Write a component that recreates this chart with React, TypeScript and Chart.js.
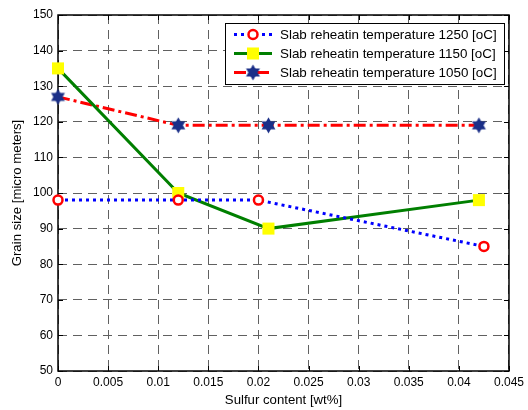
import React, { useEffect, useRef } from "react";
import { Chart, registerables } from "chart.js";

Chart.register(...registerables);

const xTicks = [0, 0.005, 0.01, 0.015, 0.02, 0.025, 0.03, 0.035, 0.04, 0.045];
const yTicks = [50, 60, 70, 80, 90, 100, 110, 120, 130, 140, 150];

const seriesLabels = [
  "Slab reheatin temperature 1250 [oC]",
  "Slab reheatin temperature 1150 [oC]",
  "Slab reheatin temperature 1050 [oC]",
];

const s1250X = [0, 0.012, 0.02, 0.0425];
const s1250Y = [98, 98, 98, 85];
const s1150X = [0, 0.012, 0.021, 0.042];
const s1150Y = [135, 100, 90, 98];
const s1050X = [0, 0.012, 0.021, 0.042];
const s1050Y = [127, 119, 119, 119];

const FONT = "'Liberation Sans', Arial, sans-serif";

function makeHexagram(): HTMLCanvasElement {
  const c = document.createElement("canvas");
  c.width = 17;
  c.height = 17;
  const ctx = c.getContext("2d")!;
  const cx = 8.5, cy = 8.5, R = 8;
  ctx.fillStyle = "#1b2f88";
  for (const start of [-90, 90]) {
    ctx.beginPath();
    for (let k = 0; k < 3; k++) {
      const a = ((start + k * 120) * Math.PI) / 180;
      const px = cx + R * Math.cos(a);
      const py = cy + R * Math.sin(a);
      if (k === 0) ctx.moveTo(px, py);
      else ctx.lineTo(px, py);
    }
    ctx.closePath();
    ctx.fill();
  }
  return c;
}

function zip(xs: number[], ys: number[]) {
  return xs.map((x, i) => ({ x, y: ys[i] }));
}

export default function App() {
  const ref = useRef<HTMLCanvasElement>(null);

  useEffect(() => {
    const canvas = ref.current!;
    const hex = makeHexagram();

    const boxPlugin = {
      id: "boxTicks",
      beforeDatasetsDraw(chart: any) {
        const { ctx, chartArea: a, scales } = chart;
        ctx.save();
        ctx.setLineDash([]);
        ctx.strokeStyle = "#000";
        ctx.lineWidth = 1;
        const L = 5;
        ctx.beginPath();
        for (const t of xTicks) {
          const px = Math.round(scales.x.getPixelForValue(t)) + 0.5;
          ctx.moveTo(px, a.bottom);
          ctx.lineTo(px, a.bottom - L);
          ctx.moveTo(px, a.top);
          ctx.lineTo(px, a.top + L);
        }
        for (const t of yTicks) {
          const py = Math.round(scales.y.getPixelForValue(t)) + 0.5;
          ctx.moveTo(a.left, py);
          ctx.lineTo(a.left + L, py);
          ctx.moveTo(a.right, py);
          ctx.lineTo(a.right - L, py);
        }
        ctx.stroke();
        ctx.lineWidth = 1.5;
        ctx.strokeRect(a.left, a.top, a.right - a.left, a.bottom - a.top);
        ctx.restore();
      },
    };

    const legendPlugin = {
      id: "matlabLegend",
      afterDatasetsDraw(chart: any) {
        const { ctx } = chart;
        const bx = 225.5, by = 23.5, bw = 279, bh = 61;
        ctx.save();
        ctx.fillStyle = "#fff";
        ctx.fillRect(bx, by, bw, bh);
        ctx.strokeStyle = "#000";
        ctx.lineWidth = 1;
        ctx.setLineDash([]);
        ctx.strokeRect(bx, by, bw, bh);
        const rows = [34.5, 53.5, 72.5];
        chart.data.datasets.forEach((ds: any, i: number) => {
          const y = rows[i];
          ctx.save();
          ctx.strokeStyle = ds.borderColor;
          ctx.lineWidth = ds.borderWidth;
          ctx.setLineDash(ds.borderDash || []);
          ctx.beginPath();
          ctx.moveTo(234, y);
          ctx.lineTo(272, y);
          ctx.stroke();
          ctx.restore();
          const mx = 253;
          ctx.save();
          ctx.setLineDash([]);
          if (ds.pointStyle === "circle") {
            ctx.beginPath();
            ctx.arc(mx, y, ds.pointRadius, 0, Math.PI * 2);
            ctx.fillStyle = ds.pointBackgroundColor;
            ctx.fill();
            ctx.lineWidth = ds.pointBorderWidth;
            ctx.strokeStyle = ds.pointBorderColor;
            ctx.stroke();
          } else if (ds.pointStyle === "rect") {
            const s = Math.SQRT1_2 * ds.pointRadius;
            ctx.fillStyle = ds.pointBackgroundColor;
            ctx.fillRect(mx - s, y - s, 2 * s, 2 * s);
          } else {
            ctx.drawImage(hex, mx - hex.width / 2, y - hex.height / 2);
          }
          ctx.restore();
          ctx.fillStyle = "#000";
          ctx.font = `13.4px ${FONT}`;
          ctx.textBaseline = "middle";
          ctx.textAlign = "left";
          ctx.fillText(ds.label, 280, y + 0.5);
        });
        ctx.restore();
      },
    };

    const chart = new Chart(canvas, {
      type: "scatter",
      data: {
        datasets: [
          {
            label: seriesLabels[0],
            data: zip(s1250X, s1250Y),
            showLine: true,
            borderColor: "#0000ff",
            borderWidth: 3,
            borderDash: [3, 4],
            pointStyle: "circle",
            pointRadius: 4.5,
            pointBorderWidth: 2.5,
            pointBorderColor: "#ff0000",
            pointBackgroundColor: "#ffffff",
            clip: false,
            order: 1,
          },
          {
            label: seriesLabels[1],
            data: zip(s1150X, s1150Y),
            showLine: true,
            borderColor: "#007f00",
            borderWidth: 3,
            borderDash: [],
            pointStyle: "rect",
            pointRadius: 8.5,
            pointBorderWidth: 0,
            pointBorderColor: "#ffff00",
            pointBackgroundColor: "#ffff00",
            clip: false,
            order: 2,
          },
          {
            label: seriesLabels[2],
            data: zip(s1050X, s1050Y),
            showLine: true,
            borderColor: "#ff0000",
            borderWidth: 3,
            borderDash: [12, 4, 3, 4],
            pointStyle: hex as any,
            pointRadius: 8,
            pointBorderWidth: 0,
            pointBackgroundColor: "#1b2f88",
            clip: false,
            order: 3,
          },
        ] as any,
      },
      options: {
        responsive: false,
        animation: false,
        devicePixelRatio: 1,
        layout: { padding: { left: 0, right: 19, top: 15, bottom: 0 } },
        plugins: {
          legend: { display: false },
          tooltip: { enabled: false },
        },
        scales: {
          x: {
            type: "linear",
            min: 0,
            max: 0.045,
            afterFit: (s: any) => {
              s.height = 39;
            },
            afterBuildTicks: (s: any) => {
              s.ticks = xTicks.map((v) => ({ value: v }));
            },
            ticks: {
              color: "#000",
              font: { family: FONT, size: 12 },
              padding: 4,
              maxRotation: 0,
              autoSkip: false,
              callback: (v: any) => String(Number(Number(v).toFixed(3))),
            },
            grid: {
              color: "#606060",
              lineWidth: 1,
              drawTicks: false,
            },
            border: { display: false, dash: [9, 6] },
            title: {
              display: true,
              text: "Sulfur content [wt%]",
              color: "#000",
              font: { family: FONT, size: 13.2 },
              padding: { top: 0, bottom: 2 },
            },
          },
          y: {
            type: "linear",
            min: 50,
            max: 150,
            afterFit: (s: any) => {
              s.width = 58;
            },
            afterBuildTicks: (s: any) => {
              s.ticks = yTicks.map((v) => ({ value: v }));
            },
            ticks: {
              color: "#000",
              font: { family: FONT, size: 12 },
              padding: 5,
              autoSkip: false,
            },
            grid: {
              color: "#606060",
              lineWidth: 1,
              drawTicks: false,
            },
            border: { display: false, dash: [9, 6] },
            title: {
              display: true,
              text: "Grain size [micro meters]",
              color: "#000",
              font: { family: FONT, size: 13.2 },
              padding: { top: 9, bottom: 0 },
            },
          },
        },
      } as any,
      plugins: [boxPlugin, legendPlugin],
    });

    return () => chart.destroy();
  }, []);

  return (
    <div style={{ position: "absolute", left: 0, top: 0, background: "#fff" }}>
      <canvas ref={ref} width={528} height={410} />
    </div>
  );
}
